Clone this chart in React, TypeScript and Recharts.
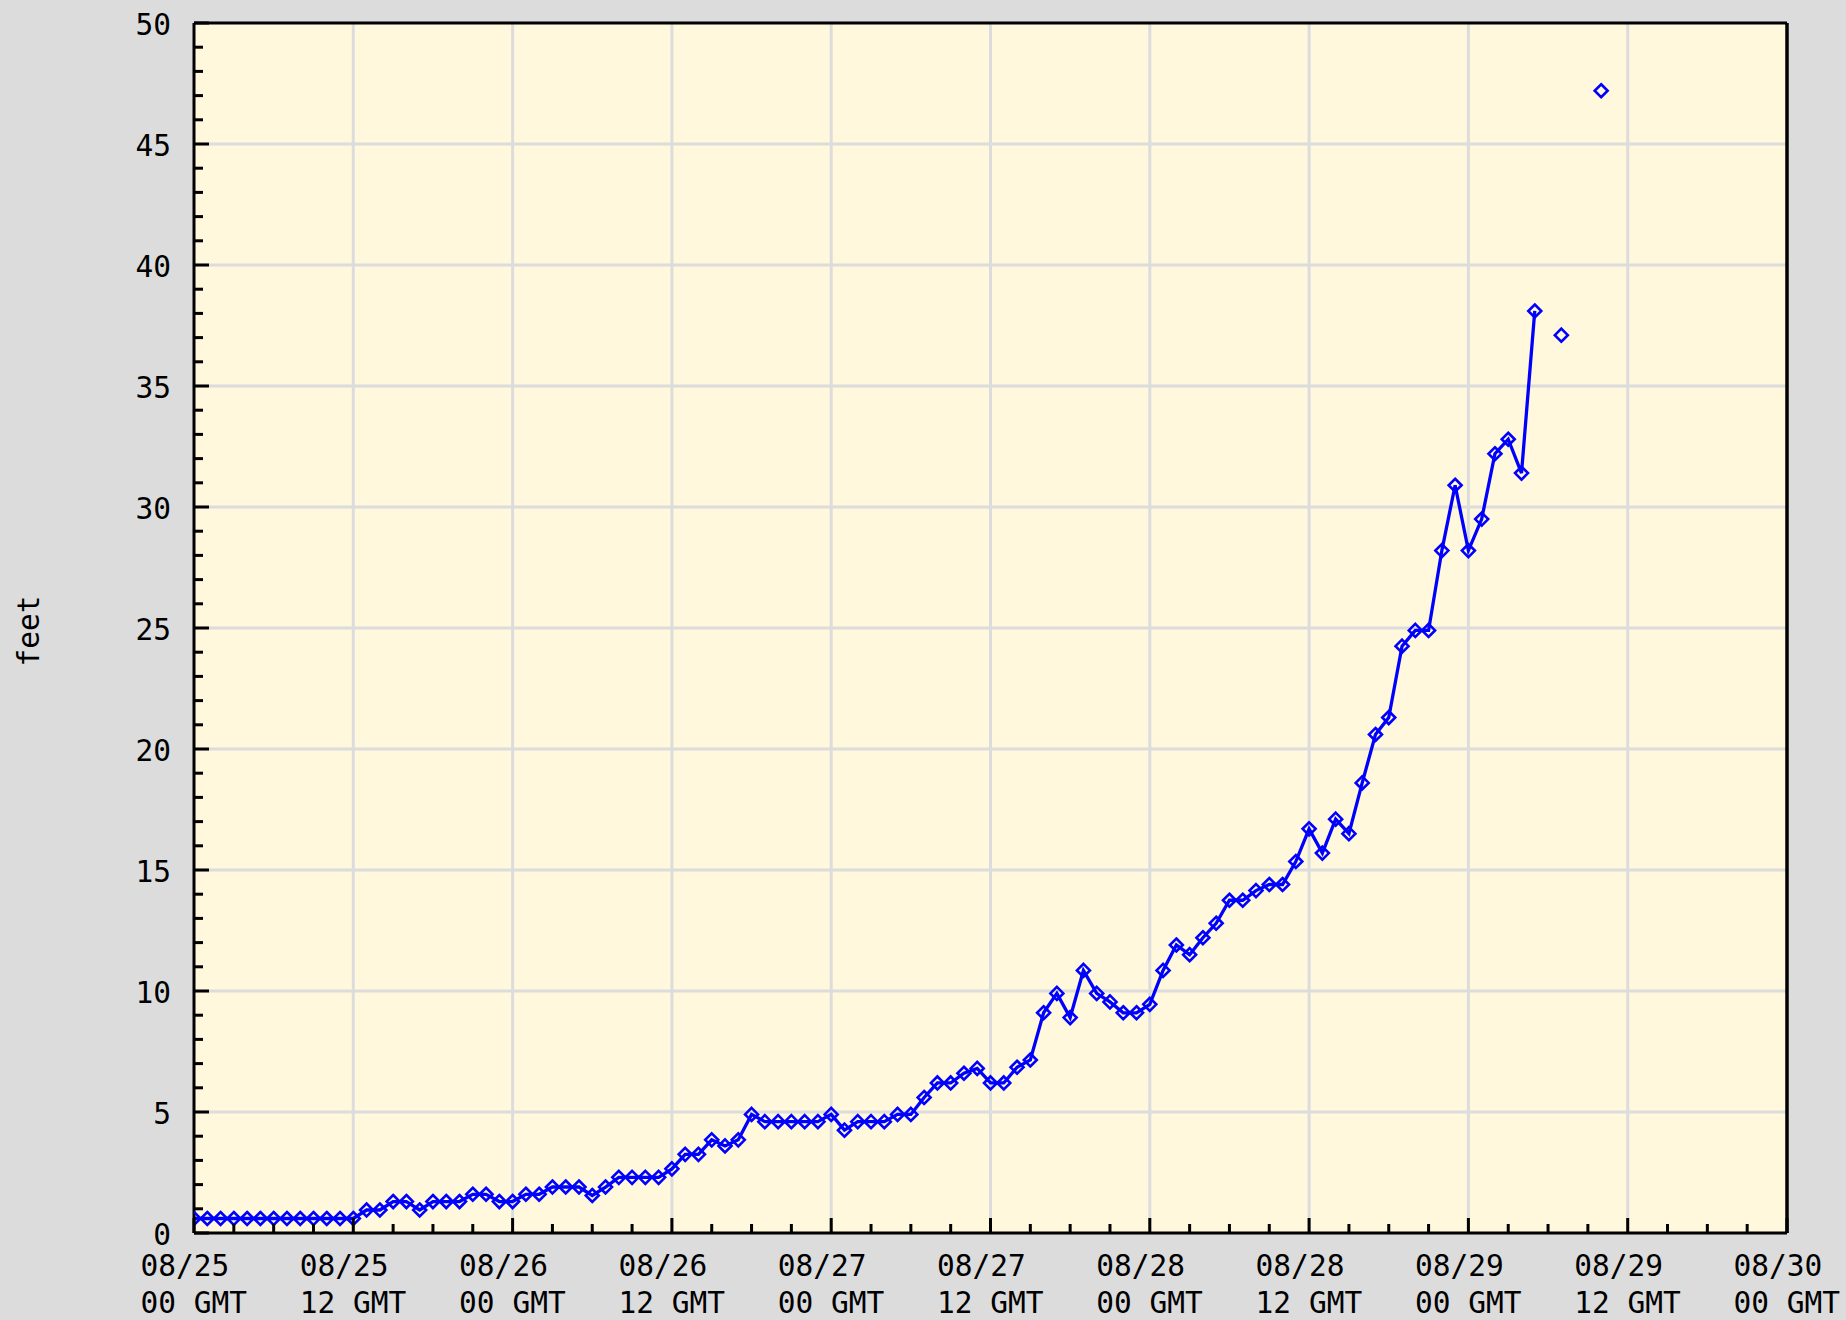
import React from 'react';
import { LineChart, Line, XAxis, YAxis, CartesianGrid, ReferenceLine } from 'recharts';

// hours since 08/25 00 GMT
const hours: number[] = [
  0, 1, 2, 3, 4, 5, 6, 7, 8, 9, 10, 11, 12, 13, 14, 15, 16, 17, 18, 19, 20,
  21, 22, 23, 24, 25, 26, 27, 28, 29, 30, 31, 32, 33, 34, 35, 36, 37, 38, 39, 40,
  41, 42, 43, 44, 45, 46, 47, 48, 49, 50, 51, 52, 53, 54, 55, 56, 57, 58, 59, 60,
  61, 62, 63, 64, 65, 66, 67, 68, 69, 70, 71, 72, 73, 74, 75, 76, 77, 78, 79, 80,
  81, 82, 83, 84, 85, 86, 87, 88, 89, 90, 91, 92, 93, 94, 95, 96, 97, 98, 99, 100,
  101, 102, 103, 104, 105, 106,
];

// water level, feet
const feet: (number | null)[] = [
  0.6, 0.6, 0.6, 0.6, 0.6, 0.6, 0.6, 0.6, 0.6, 0.6, 0.6, 0.6, 0.6, 0.95, 0.95, 1.3, 1.3, 0.95, 1.3, 1.3, 1.3,
  1.6, 1.6, 1.3, 1.3, 1.6, 1.6, 1.9, 1.9, 1.9, 1.55, 1.9, 2.3, 2.3, 2.3, 2.3, 2.65, 3.25, 3.25, 3.85, 3.6,
  3.85, 4.9, 4.6, 4.6, 4.6, 4.6, 4.6, 4.9, 4.25, 4.6, 4.6, 4.6, 4.9, 4.9, 5.6, 6.2, 6.2, 6.6, 6.8, 6.2,
  6.2, 6.85, 7.15, 9.1, 9.9, 8.9, 10.85, 9.9, 9.55, 9.1, 9.1, 9.45, 10.85, 11.9, 11.5, 12.2, 12.8, 13.75, 13.75, 14.15,
  14.4, 14.4, 15.35, 16.7, 15.7, 17.1, 16.5, 18.6, 20.6, 21.3, 24.25, 24.9, 24.9, 28.2, 30.9, 28.2, 29.5, 32.2, 32.8, 31.4,
  38.1, null, 37.1, null, null, 47.2,
];

const xTicks: number[] = [0, 3, 6, 9, 12, 15, 18, 21, 24, 27, 30, 33, 36, 39, 42, 45, 48, 51, 54, 57, 60, 63, 66, 69, 72, 75, 78, 81, 84, 87, 90, 93, 96, 99, 102, 105, 108, 111, 114, 117, 120];
const xMajor: number[] = [12, 24, 36, 48, 60, 72, 84, 96, 108];
const tickDates: string[] = ['08/25', '08/25', '08/26', '08/26', '08/27', '08/27', '08/28', '08/28', '08/29', '08/29', '08/30'];
const tickHours: string[] = ['00 GMT', '12 GMT', '00 GMT', '12 GMT', '00 GMT', '12 GMT', '00 GMT', '12 GMT', '00 GMT', '12 GMT', '00 GMT'];
const yTicks: number[] = Array.from({ length: 51 }, (_, i) => i);
const yMajor: number[] = [5, 10, 15, 20, 25, 30, 35, 40, 45];
const xMax = 120;
const yMax = 50;
const yLabel = 'feet';

const data = hours.map((h, i) => ({ h, v: feet[i] }));

const FONT = '"DejaVu Sans Mono", "Liberation Mono", monospace';
const FS = 29.5;
const BLUE = '#0000ff';

const XTick = (props: any) => {
  const { x, y, payload } = props;
  const val = payload.value as number;
  const major = val % 12 === 0;
  const idx = Math.round(val / 12);
  return (
    <g>
      <line x1={x} y1={y} x2={x} y2={y - (major ? 15 : 9)} stroke="#000" strokeWidth={3} />
      {major && (
        <>
          <text x={x - 53.5} y={y + 43} textAnchor="start" fontFamily={FONT} fontSize={FS} fill="#000">
            {tickDates[idx]}
          </text>
          <text x={x - 53.5} y={y + 80} textAnchor="start" fontFamily={FONT} fontSize={FS} fill="#000">
            {tickHours[idx]}
          </text>
        </>
      )}
    </g>
  );
};

const YTick = (props: any) => {
  const { x, y, payload } = props;
  const val = payload.value as number;
  const major = val % 5 === 0;
  return (
    <g>
      <line x1={x} y1={y} x2={x + (major ? 15 : 9)} y2={y} stroke="#000" strokeWidth={3} />
      {major && (
        <text x={x - 23} y={y + 12} textAnchor="end" fontFamily={FONT} fontSize={FS} fill="#000">
          {String(val)}
        </text>
      )}
    </g>
  );
};

const Diamond = (props: any) => {
  const { cx, cy, value, index } = props;
  if (value == null || cx == null || cy == null) return <g key={`d${index}`} />;
  const r = 6.5;
  return (
    <path
      key={`d${index}`}
      d={`M${cx},${cy - r} L${cx + r},${cy} L${cx},${cy + r} L${cx - r},${cy} Z`}
      fill="none"
      stroke={BLUE}
      strokeWidth={2.6}
    />
  );
};

const YLabel = (props: any) => {
  const vb = props.viewBox || { x: 0, y: 23, width: 194, height: 1210 };
  const cx = vb.x + 39;
  const cy = vb.y + vb.height / 2 + 3;
  return (
    <text
      transform={`translate(${cx},${cy}) rotate(-90)`}
      textAnchor="middle"
      fontFamily={FONT}
      fontSize={FS}
      fill="#000"
    >
      {yLabel}
    </text>
  );
};

export default function App() {
  return (
    <div style={{ position: 'absolute', left: 0, top: 0, width: 1846, height: 1320, background: '#dcdcdc' }}>
      <LineChart width={1846} height={1320} data={data} margin={{ top: 23, right: 59, bottom: 0, left: 0 }}>
        <CartesianGrid
          xAxisId="b"
          yAxisId="l"
          fill="#fff8dc"
          fillOpacity={1}
          stroke="#dcdcdc"
          strokeWidth={3}
          horizontalValues={yMajor}
          verticalValues={xMajor}
        />
        <XAxis
          xAxisId="b"
          dataKey="h"
          type="number"
          domain={[0, xMax]}
          ticks={xTicks}
          interval={0}
          tickSize={0}
          tickMargin={0}
          tickLine={false}
          axisLine={{ stroke: '#000', strokeWidth: 3 }}
          tick={<XTick />}
          height={87}
          allowDataOverflow
        />
        <YAxis
          yAxisId="l"
          type="number"
          domain={[0, yMax]}
          ticks={yTicks}
          interval={0}
          tickSize={0}
          tickMargin={0}
          tickLine={false}
          axisLine={{ stroke: '#000', strokeWidth: 3 }}
          tick={<YTick />}
          width={194}
          label={<YLabel />}
          allowDataOverflow
        />
        <ReferenceLine xAxisId="b" yAxisId="l" y={yMax} stroke="#000" strokeWidth={3} ifOverflow="visible" />
        <ReferenceLine xAxisId="b" yAxisId="l" x={xMax} stroke="#000" strokeWidth={3.5} ifOverflow="visible" />
        <Line
          xAxisId="b"
          yAxisId="l"
          type="linear"
          dataKey="v"
          stroke={BLUE}
          strokeWidth={3.3}
          connectNulls={false}
          dot={<Diamond />}
          activeDot={false}
          isAnimationActive={false}
        />
      </LineChart>
    </div>
  );
}
